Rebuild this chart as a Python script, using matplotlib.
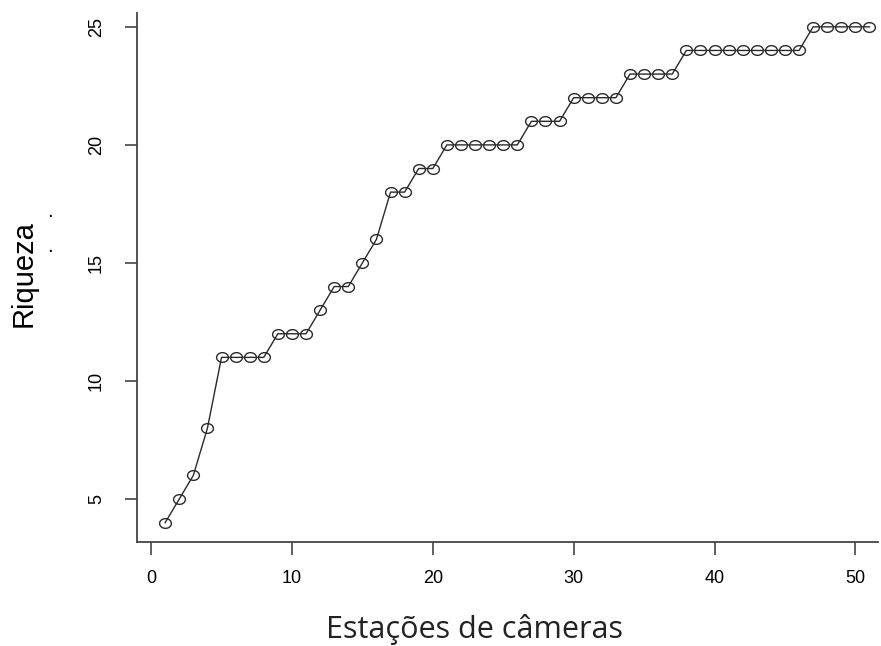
import numpy as np
import matplotlib.pyplot as plt
from matplotlib.path import Path

# estacoes de cameras (x) and accumulated richness (y)
estacoes = list(range(1, 52))
riqueza = [4, 5, 6, 8, 11, 11, 11, 11, 12, 12,
           12, 13, 14, 14, 15, 16, 18, 18, 19, 19,
           20, 20, 20, 20, 20, 20, 21, 21, 21, 22,
           22, 22, 22, 23, 23, 23, 23, 24, 24, 24,
           24, 24, 24, 24, 24, 24, 25, 25, 25, 25,
           25]
x_ticks = [0, 10, 20, 30, 40, 50]
y_ticks = [5, 10, 15, 20, 25]

plt.rcParams['font.family'] = ['Liberation Sans', 'DejaVu Sans']

# slightly flattened open circle, like the original
t = np.linspace(0, 2 * np.pi, 60)
ellipse = Path(np.column_stack([np.cos(t), 0.82 * np.sin(t)]), closed=True)

fig = plt.figure(figsize=(8.81, 6.46), dpi=100)
ax = fig.add_axes([0.1555, 0.161, 0.841, 0.819])

ax.plot(estacoes, riqueza, color='#2a2a2a', lw=1.0, marker=ellipse, markersize=8.5,
        markerfacecolor='none', markeredgecolor='#2a2a2a', markeredgewidth=1.0)

ax.set_xlim(-1, 51.6)
ax.set_ylim(3.18, 25.59)
ax.set_xticks(x_ticks)
ax.set_yticks(y_ticks)
ax.tick_params(axis='both', direction='out', length=9, width=1.2, labelsize=13,
               color='#444444')
ax.tick_params(axis='x', pad=11)
ax.tick_params(axis='y', pad=14)
for lab in ax.get_yticklabels():
    lab.set_rotation(90)
    lab.set_va('center')

for s in ['top', 'right']:
    ax.spines[s].set_visible(False)
for s in ['left', 'bottom']:
    ax.spines[s].set_linewidth(1.3)
    ax.spines[s].set_color('#444444')

fig.text(0.539, 0.026, 'Estações de câmeras', fontsize=22, family='Open Sans',
         ha='center', va='center', color='#222222')
fig.text(0.027, 0.577, 'Riqueza', fontsize=21, rotation=90, ha='center', va='center')
# stray marks next to the y label in the original
fig.text(0.057, 0.672, '.', fontsize=15, ha='center', va='center')
fig.text(0.057, 0.618, '.', fontsize=15, ha='center', va='center')

fig.savefig('out.png', dpi=100)
